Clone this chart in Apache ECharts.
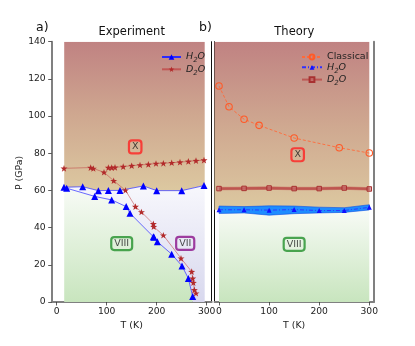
<!DOCTYPE html>
<html><head><meta charset="utf-8">
<script src="https://cdn.jsdelivr.net/npm/echarts@6/dist/echarts.min.js"></script>
<style>html,body{margin:0;padding:0;background:#fff}#c{width:415px;height:346px}</style>
</head><body><div id="c"></div>
<script>
// ---------- data ----------
const xTicks = [0, 100, 200, 300];
const yTicks = [0, 20, 40, 60, 80, 100, 120, 140];

// Experiment (T in K, P in GPa)
const expH2OUpper = [[14.6,61.7],[52,62],[83.3,59.9],[103.3,60],[126.6,60],[173.3,62.4],[200,59.9],[250,59.9],[294.6,62.6]];
const expH2OLower = [[20,61.2],[76,56.8],[110,54.9],[139,51.3],[146.6,47.7],[193.3,35.1],[194.6,34.8],[201.3,32.4],[230,25.7],[250.6,19.4],[263.3,12.7],[272,2.9]];
const expD2OMain  = [[14.6,71.9],[68,72.3],[73.3,71.8],[94.6,69.8],[114,65.2],[137.5,60.1],[157.5,51.3],[169.5,48.4],[193.3,42],[194,40.5],[213.3,35.9],[248.6,23.5],[270,16.3],[272,12.7],[273.3,10.4],[275.3,6.5],[278.6,4.7]];
const expD2OUpper = [[103.3,72.3],[110,72.3],[116.6,72.4],[133,72.8],[150,73.3],[166.6,73.7],[183.3,74],[198.6,74.5],[213.3,74.6],[230,74.9],[246.6,75.2],[263.3,75.6],[278.6,76],[294.6,76.3]];

// Theory
const thT         = [0, 50, 100, 150, 200, 250, 300];
const thClassicalT = [0, 20, 50, 80, 150, 240, 300];
const thClassical = [116.2, 105, 98.3, 95, 88.2, 83, 80.1];
const thH2O       = [49.6, 49.6, 49.4, 49.7, 49.2, 49.2, 50.9];
const thH2OLow    = [47.6, 47.9, 46.7, 47.5, 47.9, 48.2, 49.5];
const thH2OHigh   = [51.6, 51.3, 51.7, 51.6, 51.0, 50.7, 52.3];
const thD2O       = [61.0, 61.1, 61.3, 61.0, 61.0, 61.3, 60.8];

// phase labels
const expLabels = ['X', 'VIII', 'VII'];
const expLabelPos = [[157, 83.4], [130, 31.4], [257, 31.5]];
const thLabels = ['X', 'VIII'];
const thLabelPos = [[157, 79.2], [150, 31]];

// region extents (K)
const expRegionT = [15, 296];
const thRegionT = [0, 300];

// ---------- helpers ----------
const chart = echarts.init(document.getElementById('c'), null, {renderer: 'canvas'});
const FONT = 'DejaVu Sans';
const STAR = 'path://M0,-10L2.35,-3.24L9.51,-3.09L3.8,1.24L5.88,8.09L0,4L-5.88,8.09L-3.8,1.24L-9.51,-3.09L-2.35,-3.24Z';
const zipT = (ts, vs) => ts.map((t, i) => [t, vs[i]]);

function regionSeries(xi, yi, polyFn, pTop, pBottom, stops) {
  return {
    type: 'custom', xAxisIndex: xi, yAxisIndex: yi, silent: true, z: 1,
    data: [[0, 0]], clip: true,
    renderItem: function (params, api) {
      const pts = polyFn().map(p => api.coord(p));
      const y0 = api.coord([0, pTop])[1], y1 = api.coord([0, pBottom])[1];
      return {
        type: 'polygon', shape: {points: pts},
        style: {fill: new echarts.graphic.LinearGradient(0, y0, 0, y1, stops, true), stroke: null}
      };
    }
  };
}

const topStops = [{offset: 0, color: '#c08282'}, {offset: 0.5, color: '#cfa890'}, {offset: 1, color: '#dcc8a0'}];
const greenStops = [{offset: 0, color: '#f8fbf6'}, {offset: 1, color: '#c8e5be'}];
const lavStops = [{offset: 0, color: '#f7f7fc'}, {offset: 1, color: '#d8d8ee'}];

// Experiment regions
const expTopPoly = () => [[expRegionT[0], 140], [expRegionT[1], 140]].concat(
  [[expRegionT[1], expH2OUpper[expH2OUpper.length - 1][1]]],
  expH2OUpper.slice().reverse(), [[expRegionT[0], expH2OUpper[0][1]]]);
const expVIIIPoly = () => [[expRegionT[0], 0], [expRegionT[0], expH2OUpper[0][1]]].concat(
  expH2OLower, [[expH2OLower[expH2OLower.length - 1][0], 0]]);
const expVIIPoly = () => expH2OUpper.concat(
  [[expRegionT[1], expH2OUpper[expH2OUpper.length - 1][1]], [expRegionT[1], 0], [expH2OLower[expH2OLower.length - 1][0], 0]],
  expH2OLower.slice().reverse(), [[expRegionT[0], expH2OUpper[0][1]]]);

// Theory regions
const thTopPoly = () => [[-9, 140], [thRegionT[1], 140]].concat(
  zipT(thT, thH2O).reverse(), [[-9, thH2O[0]]]);
const thGreenPoly = () => [[thRegionT[0], 0]].concat(zipT(thT, thH2O), [[thRegionT[1], 0]]);
const thBandPoly = () => zipT(thT, thH2OHigh).concat(zipT(thT, thH2OLow).reverse());
const thD2OBandPoly = () => zipT(thT, thD2O.map(v => v + 0.7)).concat(zipT(thT, thD2O.map(v => v - 0.7)).reverse());

function bandSeries(xi, yi, polyFn, fill, stroke, z) {
  return {
    type: 'custom', xAxisIndex: xi, yAxisIndex: yi, silent: true, z: z,
    data: [[0, 0]],
    renderItem: function (params, api) {
      return {type: 'polygon', shape: {points: polyFn().map(p => api.coord(p))},
        style: {fill: fill, stroke: stroke, lineWidth: 0.6}};
    }
  };
}

function labelSeries(xi, yi, texts, pos, colors) {
  return {
    type: 'scatter', xAxisIndex: xi, yAxisIndex: yi, symbolSize: 0, silent: true, z: 10,
    itemStyle: {color: 'transparent'},
    data: texts.map((t, i) => ({
      value: pos[i],
      label: {show: true, position: 'inside', formatter: t, fontFamily: FONT, fontSize: 9.5, color: '#1a1a1a',
        textBorderWidth: 0, backgroundColor: 'transparent',
        borderColor: colors[i], borderWidth: 1.1, borderRadius: 3, padding: [2, 3, 1, 3]}
    }))
  };
}

const legendNames = {
  'H2O_exp': '{it|H}{sub|2}{it|O}', 'D2O_exp': '{it|D}{sub|2}{it|O}',
  'Classical': '{n|Classical}', 'H2O_th': '{it|H}{sub|2}{it|O}', 'D2O_th': '{it|D}{sub|2}{it|O}'
};
const legendRich = {
  it: {fontFamily: FONT, fontSize: 9.5, fontStyle: 'italic', lineHeight: 14, color: '#222'},
  sub: {fontFamily: FONT, fontSize: 7, fontStyle: 'italic', lineHeight: 8, verticalAlign: 'bottom', color: '#222'},
  n: {fontFamily: FONT, fontSize: 9.5, lineHeight: 14, color: '#222'}
};

function xAxisCfg(grid, min, max) {
  return {
    type: 'value', gridIndex: grid, min: min, max: max,
    axisLine: {onZero: false, lineStyle: {color: '#808080', width: 2}},
    axisTick: {customValues: xTicks, length: 3.5, lineStyle: {color: '#333', width: 0.8}},
    axisLabel: {customValues: xTicks, fontFamily: FONT, fontSize: 9.2, color: '#222', margin: 5},
    splitLine: {show: false},
    name: 'T (K)', nameLocation: 'middle', nameGap: 19,
    nameTextStyle: {fontFamily: FONT, fontSize: 9.4, color: '#222'}
  };
}
function yAxisPlain(grid, pos, color, width) {
  return {
    type: 'value', gridIndex: grid, position: pos, min: 0, max: 140,
    axisLine: {show: true, onZero: false, lineStyle: {color: color, width: width}},
    axisTick: {show: false}, axisLabel: {show: false}, splitLine: {show: false}
  };
}

const option = {
  animation: false,
  backgroundColor: '#fff',
  grid: [
    {left: 51.7, top: 41.7, width: 160, height: 260.3},
    {left: 214.5, top: 41.7, width: 159.3, height: 260.3}
  ],
  xAxis: [xAxisCfg(0, -10, 310), xAxisCfg(1, -9, 309)],
  yAxis: [
    {
      type: 'value', gridIndex: 0, position: 'left', min: 0, max: 140, interval: 20,
      axisLine: {show: true, onZero: false, lineStyle: {color: '#808080', width: 2}},
      axisTick: {show: true, length: 3.5, lineStyle: {color: '#333', width: 0.8}},
      axisLabel: {fontFamily: FONT, fontSize: 9.2, color: '#222', margin: 6},
      splitLine: {show: false}
    },
    yAxisPlain(0, 'right', '#111', 1),
    yAxisPlain(1, 'left', '#111', 1),
    yAxisPlain(1, 'right', '#808080', 2)
  ],
  legend: [
    {
      data: ['H2O_exp', 'D2O_exp'], left: 156, top: 47, orient: 'vertical', itemGap: 0.3,
      itemWidth: 19, itemHeight: 7, selectedMode: false,
      formatter: n => legendNames[n], textStyle: {rich: legendRich}
    },
    {
      data: ['Classical', 'H2O_th', 'D2O_th'], left: 296, top: 47, orient: 'vertical', itemGap: 0.3,
      itemWidth: 20, itemHeight: 6, selectedMode: false,
      formatter: n => legendNames[n], textStyle: {rich: legendRich}
    }
  ],
  graphic: [
    {type: 'text', left: 36, top: 21, style: {text: 'a)', font: '12.5px "DejaVu Sans"', fill: '#111'}},
    {type: 'text', left: 199, top: 21, style: {text: 'b)', font: '12.5px "DejaVu Sans"', fill: '#111'}},
    {type: 'text', x: 131.7, y: 32, style: {text: 'Experiment', font: '11.5px "DejaVu Sans"', fill: '#111', textAlign: 'center', textVerticalAlign: 'middle'}},
    {type: 'text', x: 294.3, y: 32, style: {text: 'Theory', font: '11.5px "DejaVu Sans"', fill: '#111', textAlign: 'center', textVerticalAlign: 'middle'}},
    {type: 'text', x: 19.5, y: 173, rotation: Math.PI / 2, style: {text: 'P (GPa)', font: '9.4px "DejaVu Sans"', fill: '#222', textAlign: 'center', textVerticalAlign: 'middle'}}
  ],
  series: [
    // backgrounds
    regionSeries(0, 0, expTopPoly, 140, 60, topStops),
    regionSeries(0, 0, expVIIIPoly, 62, 0, greenStops),
    regionSeries(0, 0, expVIIPoly, 62, 0, lavStops),
    regionSeries(1, 2, thTopPoly, 140, 50, topStops),
    regionSeries(1, 2, thGreenPoly, 50, 0, greenStops),

    // experiment lines
    {
      name: 'H2O_exp', type: 'line', xAxisIndex: 0, yAxisIndex: 0, z: 4,
      data: expH2OUpper, symbol: 'triangle', symbolSize: 7,
      itemStyle: {color: '#0000ff'}, lineStyle: {color: '#2a2aff', width: 0.7}
    },
    {
      name: 'H2O_exp', type: 'line', xAxisIndex: 0, yAxisIndex: 0, z: 4,
      data: expH2OLower, symbol: 'triangle', symbolSize: 7,
      itemStyle: {color: '#0000ff'}, lineStyle: {color: '#2a2aff', width: 0.7}
    },
    {
      name: 'D2O_exp', type: 'line', xAxisIndex: 0, yAxisIndex: 0, z: 5,
      data: expD2OMain, symbol: STAR, symbolSize: 7, symbolKeepAspect: true,
      itemStyle: {color: '#b22a2a'}, lineStyle: {color: '#c04848', width: 0.7, opacity: 0.8}
    },
    {
      name: 'D2O_exp', type: 'line', xAxisIndex: 0, yAxisIndex: 0, z: 5,
      data: expD2OUpper, symbol: STAR, symbolSize: 7, symbolKeepAspect: true,
      itemStyle: {color: '#b22a2a'}, lineStyle: {color: '#c04848', width: 0.7, opacity: 0.8}
    },

    // theory
    bandSeries(1, 2, thBandPoly, '#1e8cff', '#1050e0', 3),
    bandSeries(1, 2, thD2OBandPoly, 'rgba(190,70,70,0.45)', 'rgba(190,70,70,0.6)', 3),
    {
      name: 'Classical', type: 'line', xAxisIndex: 1, yAxisIndex: 2, z: 5,
      data: zipT(thClassicalT, thClassical), symbol: 'circle', symbolSize: 6.5,
      itemStyle: {color: 'rgba(0,0,0,0)', borderColor: '#ff5a28', borderWidth: 1.1},
      lineStyle: {color: '#ff6a3a', width: 0.9, type: [3, 2]}
    },
    {
      name: 'H2O_th', type: 'line', xAxisIndex: 1, yAxisIndex: 2, z: 5,
      data: zipT(thT, thH2O), symbol: 'triangle', symbolSize: 5,
      itemStyle: {color: '#1010ff'}, lineStyle: {color: '#3030ff', width: 0.9, type: [4, 2, 1, 2]}
    },
    {
      name: 'D2O_th', type: 'line', xAxisIndex: 1, yAxisIndex: 2, z: 5,
      data: zipT(thT, thD2O), symbol: 'rect', symbolSize: 4.5,
      itemStyle: {color: 'rgba(200,110,110,0.6)', borderColor: '#a83030', borderWidth: 1},
      lineStyle: {color: '#b84040', width: 2.2, opacity: 0.7}
    },

    // phase labels
    labelSeries(0, 0, expLabels, expLabelPos, ['#ff2020', '#22902a', '#8a108a']),
    labelSeries(1, 2, thLabels, thLabelPos, ['#ff2020', '#22902a'])
  ]
};
chart.setOption(option);
</script>
</body></html>
